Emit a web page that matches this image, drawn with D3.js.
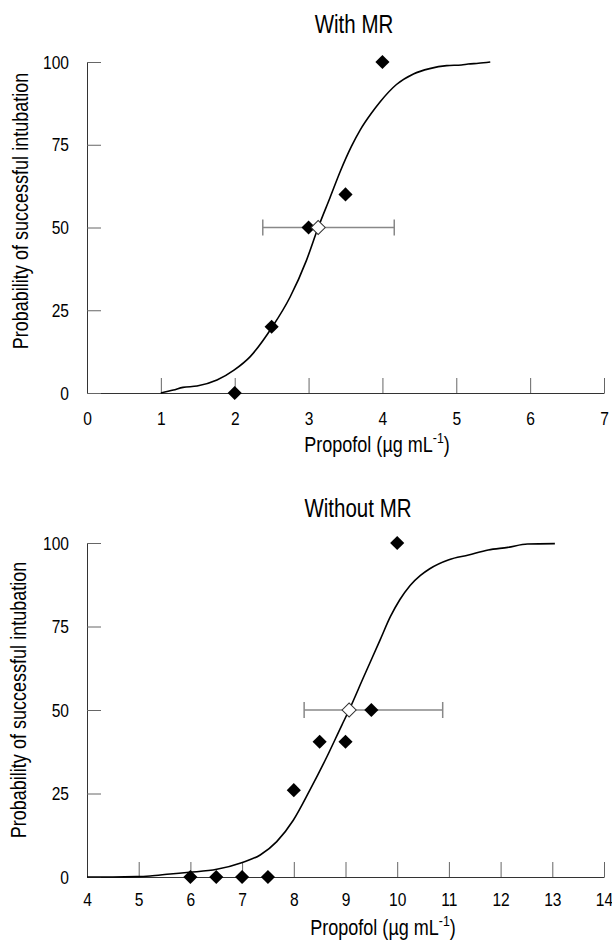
<!DOCTYPE html>
<html lang="en">
<head>
    <meta charset="UTF-8">
    <title>Probability of successful intubation</title>
    <script src="https://d3js.org/d3.v7.min.js"></script>
    <style>
        body { margin: 0; background: #fff; }
        svg { font-family: "Liberation Sans", Arial, sans-serif; }
    </style>
</head>
<body>
    <script>
        var withDose = [2, 2.5, 3, 3.5, 4];
        var withProb = [0, 20, 50, 60, 100];
        var withoutDose = [6, 6.5, 7, 7.5, 8, 8.5, 9, 9.5, 10];
        var withoutProb = [0, 0, 0, 0, 26, 40.5, 40.5, 50, 100];

        // fitted curves
        var withCurveX = [1.0, 1.17, 1.3, 1.49, 1.76, 1.99, 2.21, 2.51, 2.75, 2.97, 3.13, 3.29, 3.43, 3.58, 3.7, 3.85, 3.97, 4.19, 4.42, 4.64, 4.87, 5.07, 5.16, 5.3, 5.46];
        var withCurveY = [0, 0.9, 1.7, 2.1, 3.9, 6.9, 11, 20, 29, 40, 50, 59, 67, 74.5, 79.5, 84.5, 88, 93.2, 96.4, 98, 98.9, 99.1, 99.4, 99.6, 100];
        var withoutCurveX = [4.0, 4.5, 4.96, 5.22, 5.61, 5.98, 6.51, 6.99, 7.35, 7.67, 7.99, 8.31, 8.64, 8.93, 9.07, 9.34, 9.67, 9.87, 10.05, 10.25, 10.45, 10.63, 11.0, 11.38, 11.76, 12.14, 12.52, 13.05];
        var withoutCurveY = [0, 0, 0.1, 0.3, 0.9, 1.4, 2.3, 4.3, 6.6, 10.6, 17, 26, 36, 45.5, 50, 59.5, 71, 78, 83, 87.3, 90.3, 92.3, 95, 96.4, 97.9, 98.7, 99.7, 99.8];

        // EC50 with its range (open diamond + error bar)
        var withEC50 = [3.13, 50, 2.38, 4.16];      // x, y, low, high
        var withoutEC50 = [9.07, 50, 8.2, 10.88];

        var withTicksX = [0, 1, 2, 3, 4, 5, 6, 7];
        var withoutTicksX = [4, 5, 6, 7, 8, 9, 10, 11, 12, 13, 14];
        var ticksY = [0, 25, 50, 75, 100];

        var w = 612;
        var h = 941;
        var narrow = "scale(0.82,1)"; // no Arial Narrow here, squeeze Liberation Sans

        var svg = d3.select("body")
                    .append("svg")
                    .attr("width", w)
                    .attr("height", h);

        function drawPanel(p) {
            var x = d3.scaleLinear().domain(p.xDomain).range([87, 604]);
            var y = d3.scaleLinear().domain([0, 100]).range([p.bottom, p.top]);
            var g = svg.append("g");

            // x axis, ticks point up into the plot
            var xAxis = g.append("g")
                .attr("transform", "translate(0," + p.bottom + ")")
                .call(d3.axisBottom(x).tickValues(p.ticksX).tickFormat(d3.format("d"))
                    .tickSizeInner(-15).tickSizeOuter(0).tickPadding(p.xPad));

            // y axis, ticks point right
            var yAxis = g.append("g")
                .attr("transform", "translate(87,0)")
                .call(d3.axisLeft(y).tickValues(ticksY)
                    .tickSizeInner(-14).tickSizeOuter(0).tickPadding(22));

            [xAxis, yAxis].forEach(function(a) {
                a.select(".domain").attr("stroke", "#333");
                a.selectAll(".tick line").attr("stroke", "#666");
                a.selectAll(".tick text").attr("font-size", 19).attr("fill", "#000")
                    .attr("font-family", null)
                    .attr("transform", narrow);
            });

            // fitted curve
            var line = d3.line()
                .x(function(d) { return x(d[0]); })
                .y(function(d) { return y(d[1]); })
                .curve(d3.curveMonotoneX);
            g.append("path")
                .datum(d3.zip(p.curveX, p.curveY))
                .attr("d", line)
                .attr("fill", "none")
                .attr("stroke", "#000")
                .attr("stroke-width", 1.6);

            // error bar around EC50
            var e = p.ec50;
            g.append("line")
                .attr("x1", x(e[2])).attr("x2", x(e[3]))
                .attr("y1", y(e[1])).attr("y2", y(e[1]))
                .attr("stroke", "#888").attr("stroke-width", 1.5);
            g.selectAll(".cap")
                .data([e[2], e[3]])
                .enter()
                .append("line")
                .attr("x1", function(d) { return x(d); })
                .attr("x2", function(d) { return x(d); })
                .attr("y1", y(e[1]) - 8)
                .attr("y2", y(e[1]) + 8)
                .attr("stroke", "#888").attr("stroke-width", 1.5);

            var diamond = d3.symbol().type(d3.symbolSquare).size(100);

            // observed points
            g.selectAll(".pt")
                .data(d3.zip(p.dose, p.prob))
                .enter()
                .append("path")
                .attr("d", diamond)
                .attr("transform", function(d) {
                    return "translate(" + x(d[0]) + "," + y(d[1]) + ") rotate(45)";
                })
                .attr("fill", "#000");

            // EC50 open diamond
            g.append("path")
                .attr("d", diamond)
                .attr("transform", "translate(" + x(e[0]) + "," + y(e[1]) + ") rotate(45)")
                .attr("fill", "#fff")
                .attr("stroke", "#333")
                .attr("stroke-width", 1);

            // titles
            g.append("text")
                .attr("transform", "translate(" + p.titleX + "," + p.titleY + ") " + narrow)
                .attr("text-anchor", "middle")
                .attr("font-size", 25)
                .text(p.title);

            var xl = g.append("text")
                .attr("transform", "translate(" + p.xLabelX + "," + p.xLabelY + ") " + narrow)
                .attr("text-anchor", "middle")
                .attr("font-size", 22);
            xl.append("tspan").text("Propofol (\u00b5g mL");
            xl.append("tspan").attr("dy", -9).attr("font-size", 15).text("-1");
            xl.append("tspan").attr("dy", 9).text(")");

            g.append("text")
                .attr("transform", "translate(" + p.yLabelX + "," + p.yLabelY + ") rotate(-90) " + narrow)
                .attr("text-anchor", "middle")
                .attr("font-size", 22)
                .text("Probability of successful intubation");
        }

        drawPanel({
            title: "With MR", titleX: 354, titleY: 33,
            xDomain: [0, 7], ticksX: withTicksX, top: 62, bottom: 393, xPad: 19,
            dose: withDose, prob: withProb,
            curveX: withCurveX, curveY: withCurveY, ec50: withEC50,
            xLabelX: 377, xLabelY: 452, yLabelX: 28, yLabelY: 211
        });

        drawPanel({
            title: "Without MR", titleX: 358, titleY: 517,
            xDomain: [4, 14], ticksX: withoutTicksX, top: 543, bottom: 877, xPad: 16,
            dose: withoutDose, prob: withoutProb,
            curveX: withoutCurveX, curveY: withoutCurveY, ec50: withoutEC50,
            xLabelX: 383, xLabelY: 935, yLabelX: 26, yLabelY: 700
        });
    </script>
</body>
</html>
